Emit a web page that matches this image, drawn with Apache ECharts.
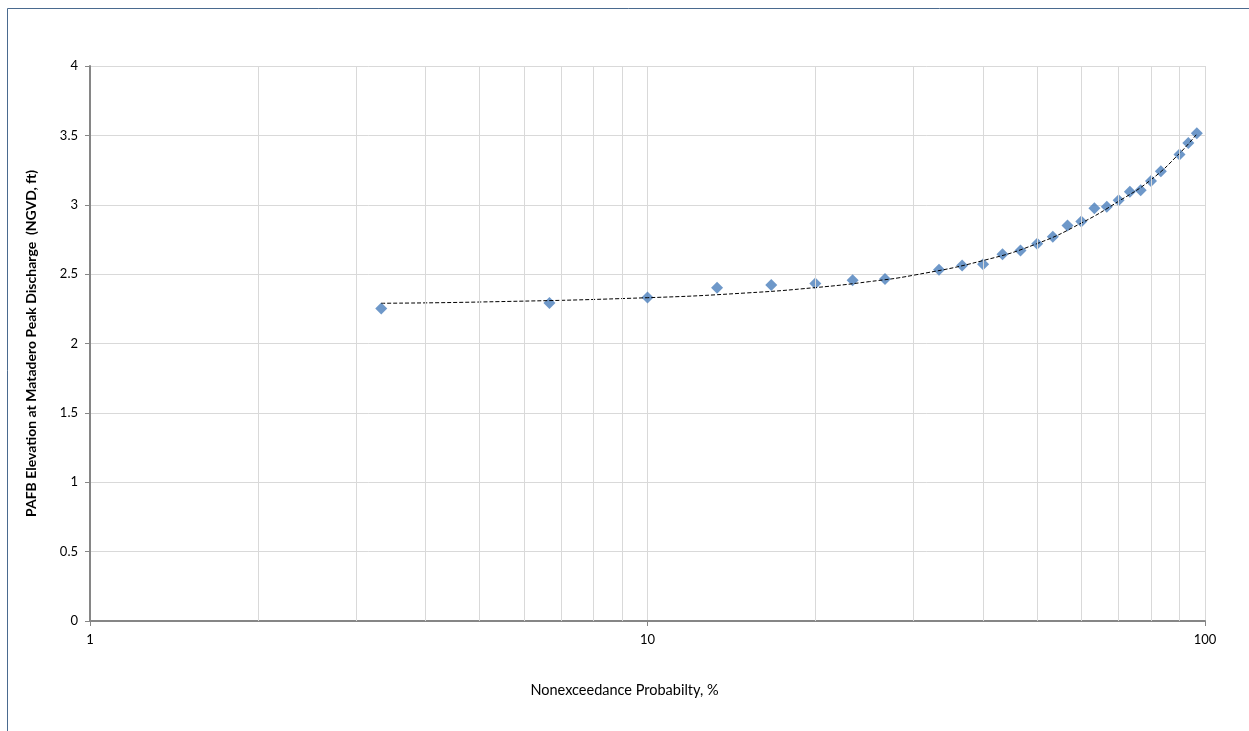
<!DOCTYPE html>
<html>
<head>
<meta charset="utf-8">
<script src="https://cdn.jsdelivr.net/npm/echarts@6/dist/echarts.min.js"></script>
<style>
  html, body { margin: 0; padding: 0; background: #fff; }
  #chart { width: 1249px; height: 731px; }
</style>
</head>
<body>
<div id="chart"></div>
<script>
// Nonexceedance probability (%) of each observed peak
const probability = [3.33, 6.67, 10, 13.33, 16.67, 20, 23.33, 26.67, 33.33, 36.67, 40,
  43.33, 46.67, 50, 53.33, 56.67, 60, 63.33, 66.67, 70, 73.33, 76.67, 80, 83.33,
  90, 93.33, 96.67];
// PAFB elevation at Matadero peak discharge (NGVD, ft)
const elevation = [2.253, 2.291, 2.332, 2.401, 2.421, 2.433, 2.455, 2.464, 2.531, 2.563, 2.572,
  2.644, 2.671, 2.719, 2.769, 2.851, 2.880, 2.974, 2.986, 3.032, 3.094, 3.104, 3.171, 3.241,
  3.363, 3.445, 3.515];
// Trend curve through the points
const trendX = [3.33, 5, 10, 15, 20, 25, 30, 40, 50, 60, 70, 80, 90, 96.67];
const trendY = [2.290, 2.299, 2.330, 2.364, 2.403, 2.446, 2.492, 2.598, 2.720, 2.868, 3.025, 3.180, 3.370, 3.510];
// Log-axis in-between gridlines
const minorX = [2, 3, 4, 5, 6, 7, 8, 9, 20, 30, 40, 50, 60, 70, 80, 90];

const chart = echarts.init(document.getElementById('chart'), null, { renderer: 'canvas' });
const fontFamily = 'Lato, "Open Sans", sans-serif';
const labelFont = { fontFamily: fontFamily, fontSize: 13, color: '#000' };

chart.setOption({
  backgroundColor: '#fff',
  animation: false,
  graphic: [{
    type: 'rect', silent: true,
    shape: { x: 7.5, y: 8.5, width: 1400, height: 900 },
    style: { fill: 'none', stroke: '#4a6a8f', lineWidth: 1 }
  }],
  grid: { left: 90, right: 44, top: 66, bottom: 110, containLabel: false },
  xAxis: {
    type: 'log', logBase: 10, min: 1, max: 100,
    name: 'Nonexceedance Probabilty, %',
    nameLocation: 'middle', nameGap: 62,
    nameTextStyle: { fontFamily: fontFamily, fontSize: 14.5, color: '#000', padding: [0, 46, 0, 0] },
    axisLine: { show: true, onZero: false, lineStyle: { color: '#868686', width: 2 } },
    axisTick: { show: true, inside: false, length: 5, lineStyle: { color: '#868686', width: 1 } },
    axisLabel: Object.assign({ margin: 12 }, labelFont),
    splitLine: { show: true, lineStyle: { color: '#d9d9d9', width: 1 } }
  },
  yAxis: {
    type: 'value', min: 0, max: 4, interval: 0.5,
    name: 'PAFB Elevation at Matadero Peak Discharge  (NGVD, ft)',
    nameLocation: 'middle', nameGap: 52, nameRotate: 90,
    nameTextStyle: { fontFamily: fontFamily, fontSize: 14, fontWeight: 'bold', color: '#000' },
    axisLine: { show: true, lineStyle: { color: '#868686', width: 2 } },
    axisTick: { show: true, inside: false, length: 5, lineStyle: { color: '#868686', width: 1 } },
    axisLabel: Object.assign({ margin: 12 }, labelFont),
    splitLine: { show: true, lineStyle: { color: '#d9d9d9', width: 1 } }
  },
  series: [
    {
      // minor vertical gridlines of the log axis
      type: 'line', data: [], silent: true,
      markLine: {
        silent: true, symbol: 'none', label: { show: false },
        lineStyle: { color: '#d9d9d9', width: 1, type: 'solid' },
        data: minorX.map(v => ({ xAxis: v }))
      }
    },
    {
      name: 'Trend', type: 'line', smooth: true, showSymbol: false, silent: true, z: 3,
      data: trendX.map((x, i) => [x, trendY[i]]),
      lineStyle: { color: '#000', width: 1, type: [4, 2] }
    },
    {
      name: 'Elevation', type: 'scatter', symbol: 'diamond', symbolSize: [12, 12], z: 2,
      data: probability.map((x, i) => [x, elevation[i]]),
      itemStyle: { color: '#4a7ebb' }
    }
  ]
});
</script>
</body>
</html>
